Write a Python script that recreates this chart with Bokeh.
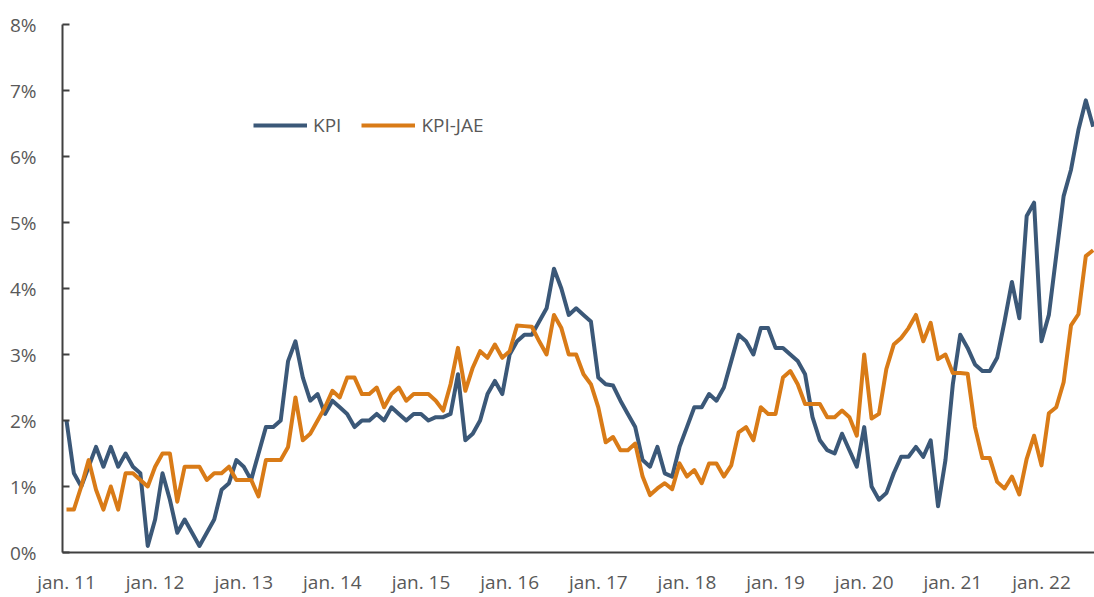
from bokeh.plotting import figure
from bokeh.models import (FixedTicker, PrintfTickFormatter, Range1d, Legend,
                          LegendItem, ColumnDataSource)
from bokeh.embed import file_html
from bokeh.resources import INLINE

# ---- data (12-month change, %), monthly from jan. 2011 ----
month_index = list(range(140))

kpi = [
    2.0, 1.2, 1.0, 1.3, 1.6, 1.3, 1.6, 1.3, 1.5, 1.3, 1.2, 0.1,
    0.5, 1.2, 0.8, 0.3, 0.5, 0.3, 0.1, 0.3, 0.5, 0.95, 1.05, 1.4,
    1.3, 1.1, 1.5, 1.9, 1.9, 2.0, 2.9, 3.2, 2.65, 2.3, 2.4, 2.1,
    2.3, 2.2, 2.1, 1.9, 2.0, 2.0, 2.1, 2.0, 2.2, 2.1, 2.0, 2.1,
    2.1, 2.0, 2.05, 2.05, 2.1, 2.7, 1.7, 1.8, 2.0, 2.4, 2.6, 2.4,
    3.0, 3.2, 3.3, 3.3, 3.5, 3.7, 4.3, 4.0, 3.6, 3.7, 3.6, 3.5,
    2.65, 2.55, 2.53, 2.3, 2.1, 1.9, 1.4, 1.3, 1.6, 1.2, 1.15, 1.6,
    1.9, 2.2, 2.2, 2.4, 2.3, 2.5, 2.9, 3.3, 3.2, 3.0, 3.4, 3.4,
    3.1, 3.1, 3.0, 2.9, 2.7, 2.05, 1.7, 1.55, 1.5, 1.8, 1.55, 1.3,
    1.9, 1.0, 0.8, 0.9, 1.2, 1.45, 1.45, 1.6, 1.45, 1.7, 0.7, 1.4,
    2.55, 3.3, 3.1, 2.85, 2.75, 2.75, 2.95, 3.5, 4.1, 3.55, 5.1, 5.3,
    3.2, 3.6, 4.5, 5.4, 5.8, 6.4, 6.85, 6.45,
]

kpi_jae = [
    0.65, 0.65, 1.0, 1.4, 0.95, 0.65, 1.0, 0.65, 1.2, 1.2, 1.1, 1.0,
    1.3, 1.5, 1.5, 0.77, 1.3, 1.3, 1.3, 1.1, 1.2, 1.2, 1.3, 1.1,
    1.1, 1.1, 0.85, 1.4, 1.4, 1.4, 1.6, 2.35, 1.7, 1.8, 2.0, 2.2,
    2.45, 2.35, 2.65, 2.65, 2.4, 2.4, 2.5, 2.2, 2.4, 2.5, 2.3, 2.4,
    2.4, 2.4, 2.3, 2.15, 2.55, 3.1, 2.45, 2.8, 3.05, 2.95, 3.15, 2.95,
    3.05, 3.44, 3.43, 3.42, 3.2, 3.0, 3.6, 3.4, 3.0, 3.0, 2.7, 2.55,
    2.2, 1.67, 1.75, 1.55, 1.55, 1.65, 1.15, 0.87, 0.97, 1.05, 0.96, 1.35,
    1.15, 1.25, 1.05, 1.35, 1.35, 1.15, 1.32, 1.82, 1.9, 1.7, 2.2, 2.1,
    2.1, 2.65, 2.75, 2.55, 2.25, 2.25, 2.25, 2.05, 2.05, 2.15, 2.05, 1.77,
    3.0, 2.03, 2.1, 2.78, 3.15, 3.25, 3.4, 3.6, 3.2, 3.48, 2.93, 3.0,
    2.72, 2.72, 2.71, 1.9, 1.43, 1.43, 1.07, 0.97, 1.15, 0.88, 1.42, 1.77,
    1.32, 2.11, 2.2, 2.58, 3.44, 3.61, 4.49, 4.58,
]

tick_months = [0, 12, 24, 36, 48, 60, 72, 84, 96, 108, 120, 132]
tick_labels = ["jan. 11", "jan. 12", "jan. 13", "jan. 14", "jan. 15", "jan. 16",
               "jan. 17", "jan. 18", "jan. 19", "jan. 20", "jan. 21", "jan. 22"]
y_ticks = [0, 1, 2, 3, 4, 5, 6, 7, 8]

series_names = ["KPI", "KPI-JAE"]
series_colors = ["#3B5878", "#D97B17"]

FONT = "Open Sans"
TXT = "#595959"
AXIS = "#404040"

src = ColumnDataSource(dict(x=month_index, kpi=kpi, jae=kpi_jae))

p = figure(width=1094, height=597, output_backend="svg", toolbar_location=None,
           x_range=Range1d(-0.54, 139.18), y_range=Range1d(0, 8),
           min_border_left=62, min_border_right=0, min_border_top=24,
           min_border_bottom=43)
p.outline_line_color = None
p.xgrid.visible = False
p.ygrid.visible = False
p.background_fill_color = "white"

r1 = p.line("x", "kpi", source=src, line_color=series_colors[0], line_width=4,
            line_join="round")
r2 = p.line("x", "jae", source=src, line_color=series_colors[1], line_width=4,
            line_join="round")

# y axis
p.yaxis.ticker = FixedTicker(ticks=y_ticks)
p.yaxis.formatter = PrintfTickFormatter(format="%d%%")
p.yaxis.major_tick_in = 7
p.yaxis.major_tick_out = 0
p.yaxis.minor_tick_line_color = None
p.yaxis.axis_line_color = AXIS
p.yaxis.axis_line_width = 2
p.yaxis.major_tick_line_color = AXIS
p.yaxis.major_tick_line_width = 2
p.yaxis.major_label_standoff = 26
p.yaxis.major_label_text_font = FONT
p.yaxis.major_label_text_font_size = "19px"
p.yaxis.major_label_text_color = TXT

# x axis
p.xaxis.ticker = FixedTicker(ticks=tick_months)
p.xaxis.major_label_overrides = {m: l for m, l in zip(tick_months, tick_labels)}
p.xaxis.major_tick_in = 0
p.xaxis.major_tick_out = 0
p.xaxis.minor_tick_line_color = None
p.xaxis.axis_line_color = AXIS
p.xaxis.axis_line_width = 2
p.xaxis.major_label_standoff = 16
p.xaxis.major_label_text_font = FONT
p.xaxis.major_label_text_font_size = "19px"
p.xaxis.major_label_text_color = TXT

legend = Legend(items=[LegendItem(label=series_names[0], renderers=[r1]),
                       LegendItem(label=series_names[1], renderers=[r2])],
                orientation="horizontal", location=(191, 414),
                glyph_width=54, glyph_height=20, label_standoff=6, spacing=20,
                padding=0, margin=0, border_line_color=None,
                background_fill_alpha=0,
                label_text_font=FONT, label_text_font_size="19px",
                label_text_color=TXT)
p.add_layout(legend, "center")

open("out.html", "w").write(file_html(p, INLINE))
